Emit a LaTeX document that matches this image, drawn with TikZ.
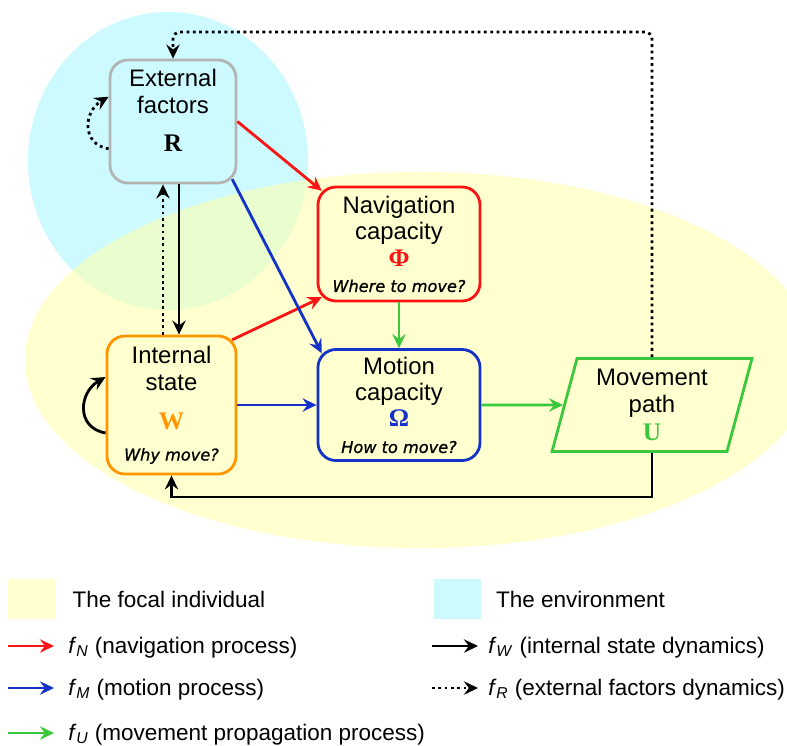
\documentclass[tikz,border=0pt]{standalone}
\usepackage{fontspec}
\setmainfont{Liberation Sans}
\newfontfamily\symfont{Liberation Serif}
\newfontfamily\askfont[FakeBold=1]{DejaVu Sans}
\usetikzlibrary{shapes.geometric, arrows.meta, positioning}

\definecolor{envcyan}{RGB}{204,250,255}
\definecolor{indyellow}{RGB}{255,255,175}
\definecolor{navred}{RGB}{250,20,20}
\definecolor{motblue}{RGB}{20,50,200}
\definecolor{pathgreen}{RGB}{60,200,60}
\definecolor{intorange}{RGB}{255,150,0}
\definecolor{extgray}{RGB}{180,180,180}

\tikzstyle{box} = [draw, rounded corners=0.45cm, line width=2pt, align=center, inner sep=2pt]
\tikzstyle{arrow} = [line width=2pt,->,>={Stealth[length=10pt,width=9.5pt,inset=3.5pt]}]
\tikzstyle{dotarrow} = [arrow, dash pattern=on 2pt off 2.5pt]
\tikzstyle{legbox} = [minimum width=1.175cm, minimum height=1cm, inner sep=0pt]
\tikzstyle{legtxt} = [anchor=base west, inner sep=0pt, font=\fontsize{16}{18}\selectfont]

\newcommand{\sym}[2]{{\color{#1}\symfont\bfseries\fontsize{18}{19}\selectfont #2}}
\newcommand{\ask}[1]{{\askfont\itshape\fontsize{11.5}{13}\selectfont #1}}
\newcommand{\fsub}[1]{\textit{f}\textsubscript{\textit{#1}}}

\begin{document}
\begin{tikzpicture}[x=0.025cm, y=-0.025cm, font=\fontsize{17}{19}\selectfont]
    \useasboundingbox (0,0) rectangle (787,745);
    % environment and focal individual
    \fill[envcyan] (168,161) ellipse [x radius=3.5cm, y radius=3.725cm];
    \fill[indyellow, opacity=0.6] (420,360) ellipse [x radius=9.875cm, y radius=4.7cm];

    \node (ext) [box, draw=extgray, minimum width=3.15cm, minimum height=3.075cm] at (173,121.5) {External\\factors\\[8pt]\sym{black}{R}\\[-9pt]\strut};
    \node (nav) [box, draw=navred, minimum width=4.05cm, minimum height=2.85cm] at (399,244) {Navigation\\capacity\\\sym{navred}{Φ}\\[-1pt]\ask{Where to move?}};
    \node (mot) [box, draw=motblue, minimum width=4.05cm, minimum height=2.775cm] at (399,405) {Motion\\capacity\\[-1pt]\sym{motblue}{Ω}\\\ask{How to move?}};
    \node (int) [box, draw=intorange, minimum width=3.225cm, minimum height=3.45cm] at (171.5,405) {Internal\\state\\[9pt]\sym{intorange}{W}\\[3pt]\ask{Why move?}};
    \node (move) [trapezium, trapezium left angle=76, trapezium right angle=104, trapezium stretches=true, draw=pathgreen, line width=2pt, align=center, minimum width=5cm, minimum height=2.325cm] at (652,405) {Movement\\path\\[1pt]\sym{pathgreen}{U}};

    % external factors dynamics
    \coordinate (fbtop) at (0,32);
    \draw[dotarrow, rounded corners=5pt] (move.north -| move.center) -- (move.center |- fbtop) -| (ext.north);
    \draw[dotarrow] (ext.203) to[out=170, in=210, looseness=1.4] (ext.159);
    \draw[dotarrow] ([xshift=-0.25cm]ext.south |- int.north) -- ([xshift=-0.25cm]ext.south);

    % internal state dynamics
    \draw[arrow] (int.203) to[out=170, in=210, looseness=1.4] (int.157);
    \draw[arrow] ([xshift=0.15cm]ext.south) -- ([xshift=0.15cm]ext.south |- int.north);
    \coordinate (fbbot) at (0,497);
    \draw[arrow] (move.south -| move.center) -- (move.center |- fbbot) -| (int.south);

    % navigation and motion
    \draw[arrow, navred] (ext.east) -- ([shift={(0.13cm,-0.13cm)}]nav.north west);
    \draw[arrow, navred] ([shift={(-0.13cm,-0.13cm)}]int.north east) -- ([shift={(0.13cm,0.13cm)}]nav.south west);
    \draw[arrow, motblue] ([shift={(-0.13cm,0.13cm)}]ext.south east) -- ([shift={(0.13cm,-0.13cm)}]mot.north west);
    \draw[arrow, motblue] (int.east) -- (int.east -| mot.west);

    % movement propagation
    \draw[arrow, pathgreen] (nav.south) -- (mot.north);
    \draw[arrow, pathgreen] (mot.east) -- (move.west);

    % legend
    \node (lgind) [legbox, fill=indyellow!60] at (31.5,599) {};
    \node (lgindtxt) [legtxt, anchor=west, right=0.425cm of lgind] {The focal individual};
    \node (lgenv) [legbox, fill=envcyan] at (457,599) {};
    \node (lgenvtxt) [legtxt, anchor=west, right=0.375cm of lgenv] {The environment};

    \coordinate (lgNs) at (8,646);
    \node (lgN) [legtxt] at (68,653) {\fsub{N} (navigation process)};
    \draw[arrow, navred] (lgNs) -- ([xshift=-0.35cm]lgN.west |- lgNs);
    \coordinate (lgMs) at (8,688);
    \node (lgM) [legtxt] at (68,695) {\fsub{M} (motion process)};
    \draw[arrow, motblue] (lgMs) -- ([xshift=-0.35cm]lgM.west |- lgMs);
    \coordinate (lgUs) at (8,733);
    \node (lgU) [legtxt] at (68,740) {\fsub{U} (movement propagation process)};
    \draw[arrow, pathgreen] (lgUs) -- ([xshift=-0.35cm]lgU.west |- lgUs);
    \coordinate (lgWs) at (432,646);
    \node (lgW) [legtxt] at (488,653) {\fsub{W} (internal state dynamics)};
    \draw[arrow] (lgWs) -- ([xshift=-0.25cm]lgW.west |- lgWs);
    \coordinate (lgRs) at (432,688);
    \node (lgR) [legtxt] at (488,695) {\fsub{R} (external factors dynamics)};
    \draw[dotarrow] (lgRs) -- ([xshift=-0.25cm]lgR.west |- lgRs);
\end{tikzpicture}
\end{document}
